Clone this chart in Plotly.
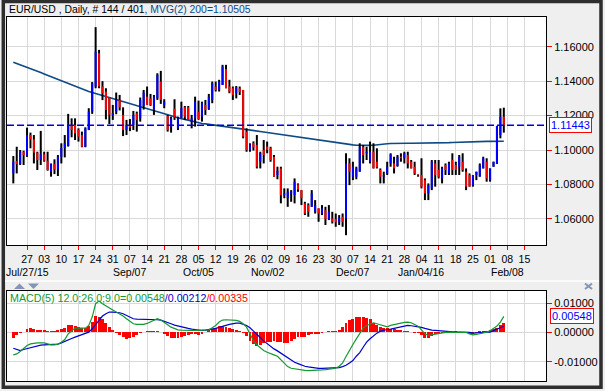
import plotly.graph_objects as go
import pandas as pd

# ---------------- data ----------------
opens = [1.0864, 1.0936, 1.0918, 1.0990, 1.0965, 1.1087, 1.1062, 1.0985, 1.0942, 1.0975,
         1.0938, 1.0874, 1.0918, 1.0887, 1.0961, 1.1012, 1.1023, 1.1146, 1.1146, 1.1116,
         1.1087, 1.1019, 1.1116, 1.1223, 1.1369, 1.1563, 1.1369, 1.1340, 1.1307, 1.1200,
         1.1223, 1.1291, 1.1204, 1.1116, 1.1146, 1.1146, 1.1213, 1.1184, 1.1256, 1.1310,
         1.1300, 1.1233, 1.1301, 1.1398, 1.1262, 1.1198, 1.1136, 1.1240, 1.1126, 1.1184,
         1.1248, 1.1248, 1.1165, 1.1184, 1.1223, 1.1194, 1.1262, 1.1240, 1.1290, 1.1369,
         1.1349, 1.1378, 1.1470, 1.1369, 1.1359, 1.1330, 1.1359, 1.1349, 1.1107, 1.1000,
         1.1040, 1.1029, 1.0932, 1.1000, 1.1020, 1.1010, 1.0961, 1.0855, 1.0893, 1.0738,
         1.0720, 1.0748, 1.0738, 1.0800, 1.0767, 1.0690, 1.0680, 1.0670, 1.0641, 1.0661,
         1.0631, 1.0650, 1.0600, 1.0602, 1.0600, 1.0580, 1.0612, 1.0602, 1.0922, 1.0845,
         1.0845, 1.0874, 1.1019, 1.0981, 1.0932, 1.0990, 1.0932, 1.0884, 1.0845, 1.0864,
         1.0922, 1.0922, 1.0907, 1.0961, 1.0952, 1.0971, 1.0932, 1.0903, 1.0858, 1.0855,
         1.0825, 1.0748, 1.0777, 1.0922, 1.0884, 1.0835, 1.0913, 1.0864, 1.0942, 1.0913,
         1.0903, 1.0932, 1.0874, 1.0855, 1.0796, 1.0855, 1.0845, 1.0893, 1.0932, 1.0825,
         1.0903, 1.0919, 1.1087, 1.1194]
highs = [1.0965, 1.1019, 1.1000, 1.0996, 1.1130, 1.1101, 1.1087, 1.0990, 1.1111, 1.0990,
         1.0990, 1.0922, 1.0946, 1.0971, 1.1039, 1.1087, 1.1210, 1.1184, 1.1184, 1.1126,
         1.1107, 1.1132, 1.1243, 1.1395, 1.1714, 1.1582, 1.1400, 1.1359, 1.1307, 1.1262,
         1.1334, 1.1320, 1.1248, 1.1175, 1.1180, 1.1227, 1.1223, 1.1305, 1.1349, 1.1369,
         1.1326, 1.1320, 1.1446, 1.1460, 1.1295, 1.1204, 1.1194, 1.1295, 1.1194, 1.1281,
         1.1256, 1.1256, 1.1204, 1.1310, 1.1287, 1.1281, 1.1291, 1.1326, 1.1398, 1.1398,
         1.1408, 1.1495, 1.1495, 1.1408, 1.1369, 1.1372, 1.1369, 1.1349, 1.1126, 1.1039,
         1.1050, 1.1087, 1.0990, 1.1058, 1.1049, 1.1019, 1.0971, 1.0903, 1.0903, 1.0777,
         1.0777, 1.0767, 1.0835, 1.0806, 1.0767, 1.0699, 1.0690, 1.0767, 1.0709, 1.0661,
         1.0680, 1.0670, 1.0680, 1.0641, 1.0631, 1.0622, 1.0631, 1.0981, 1.0952, 1.0932,
         1.0903, 1.1039, 1.1029, 1.1019, 1.1049, 1.1039, 1.1010, 1.0893, 1.0874, 1.0932,
         1.0981, 1.0961, 1.0971, 1.0981, 1.0990, 1.0990, 1.0942, 1.0932, 1.0858, 1.0952,
         1.0835, 1.0806, 1.0942, 1.0942, 1.0942, 1.0903, 1.0922, 1.0932, 1.0981, 1.0932,
         1.0971, 1.0981, 1.0893, 1.0864, 1.0855, 1.0874, 1.0922, 1.0961, 1.0952, 1.0893,
         1.0932, 1.1140, 1.1242, 1.1246]
lows = [1.0806, 1.0864, 1.0913, 1.0913, 1.0960, 1.1010, 1.0922, 1.0884, 1.0913, 1.0932,
        1.0880, 1.0845, 1.0860, 1.0849, 1.0922, 1.0957, 1.1020, 1.1074, 1.1058, 1.1049,
        1.1016, 1.1016, 1.1116, 1.1210, 1.1359, 1.1359, 1.1290, 1.1178, 1.1151, 1.1175,
        1.1208, 1.1230, 1.1081, 1.1087, 1.1110, 1.1116, 1.1107, 1.1165, 1.1235, 1.1262,
        1.1256, 1.1204, 1.1291, 1.1268, 1.1243, 1.1107, 1.1101, 1.1175, 1.1116, 1.1184,
        1.1175, 1.1175, 1.1126, 1.1136, 1.1175, 1.1165, 1.1204, 1.1233, 1.1272, 1.1340,
        1.1340, 1.1378, 1.1359, 1.1330, 1.1291, 1.1300, 1.1320, 1.1068, 1.0990, 1.0990,
        1.0997, 1.0893, 1.0893, 1.0922, 1.0981, 1.0932, 1.0845, 1.0830, 1.0690, 1.0720,
        1.0670, 1.0699, 1.0690, 1.0757, 1.0680, 1.0622, 1.0612, 1.0670, 1.0631, 1.0583,
        1.0622, 1.0564, 1.0593, 1.0573, 1.0554, 1.0564, 1.0554, 1.0505, 1.0796, 1.0825,
        1.0830, 1.0874, 1.0922, 1.0942, 1.0922, 1.0893, 1.0893, 1.0806, 1.0806, 1.0855,
        1.0903, 1.0864, 1.0903, 1.0932, 1.0922, 1.0893, 1.0893, 1.0855, 1.0845, 1.0777,
        1.0709, 1.0709, 1.0767, 1.0787, 1.0835, 1.0806, 1.0855, 1.0855, 1.0855, 1.0855,
        1.0855, 1.0874, 1.0767, 1.0787, 1.0787, 1.0825, 1.0845, 1.0893, 1.0816, 1.0816,
        1.0903, 1.0919, 1.1068, 1.1101]
closes = [1.0932, 1.0918, 1.0990, 1.0971, 1.1087, 1.1062, 1.0985, 1.0942, 1.0975, 1.0938,
          1.0884, 1.0918, 1.0887, 1.0961, 1.1012, 1.1040, 1.1146, 1.1116, 1.1097, 1.1078,
          1.1019, 1.1126, 1.1223, 1.1388, 1.1572, 1.1369, 1.1330, 1.1233, 1.1204, 1.1215,
          1.1291, 1.1248, 1.1116, 1.1146, 1.1130, 1.1204, 1.1175, 1.1291, 1.1334, 1.1262,
          1.1262, 1.1310, 1.1437, 1.1291, 1.1281, 1.1116, 1.1184, 1.1190, 1.1184, 1.1243,
          1.1194, 1.1175, 1.1184, 1.1280, 1.1180, 1.1275, 1.1233, 1.1310, 1.1388, 1.1349,
          1.1398, 1.1485, 1.1359, 1.1340, 1.1320, 1.1365, 1.1337, 1.1078, 1.1000, 1.1033,
          1.1015, 1.0903, 1.0981, 1.0971, 1.1000, 1.0942, 1.0845, 1.0880, 1.0738, 1.0748,
          1.0758, 1.0758, 1.0815, 1.0770, 1.0720, 1.0631, 1.0641, 1.0748, 1.0680, 1.0631,
          1.0661, 1.0600, 1.0641, 1.0583, 1.0580, 1.0605, 1.0583, 1.0922, 1.0874, 1.0903,
          1.0893, 1.1019, 1.0971, 1.0990, 1.0990, 1.0893, 1.0900, 1.0845, 1.0855, 1.0903,
          1.0975, 1.0893, 1.0961, 1.0952, 1.0981, 1.0922, 1.0893, 1.0864, 1.0852, 1.0787,
          1.0748, 1.0796, 1.0932, 1.0855, 1.0845, 1.0893, 1.0884, 1.0922, 1.0884, 1.0884,
          1.0961, 1.0884, 1.0787, 1.0787, 1.0855, 1.0874, 1.0913, 1.0952, 1.0835, 1.0893,
          1.0932, 1.1140, 1.1194, 1.11443]
ma200 = [1.1510, 1.1503, 1.1496, 1.1489, 1.1482, 1.1474, 1.1466, 1.1458, 1.1450, 1.1442,
         1.1434, 1.1426, 1.1418, 1.1410, 1.1401, 1.1392, 1.1384, 1.1376, 1.1368, 1.1360,
         1.1352, 1.1346, 1.1340, 1.1334, 1.1328, 1.1322, 1.1316, 1.1310, 1.1304, 1.1298,
         1.1292, 1.1286, 1.1280, 1.1274, 1.1268, 1.1262, 1.1256, 1.1250, 1.1244, 1.1238,
         1.1232, 1.1226, 1.1220, 1.1214, 1.1208, 1.1203, 1.1198, 1.1193, 1.1188, 1.1182,
         1.1178, 1.1173, 1.1168, 1.1163, 1.1157, 1.1154, 1.1152, 1.1149, 1.1146, 1.1143,
         1.1140, 1.1138, 1.1136, 1.1133, 1.1131, 1.1128, 1.1125, 1.1122, 1.1119, 1.1116,
         1.1114, 1.1111, 1.1108, 1.1105, 1.1102, 1.1099, 1.1096, 1.1093, 1.1090, 1.1087,
         1.1084, 1.1081, 1.1079, 1.1076, 1.1073, 1.1071, 1.1068, 1.1066, 1.1063, 1.1060,
         1.1057, 1.1053, 1.1049, 1.1045, 1.1041, 1.1038, 1.1036, 1.1034, 1.1032, 1.1030,
         1.1028, 1.1027, 1.1027, 1.1027, 1.1027, 1.1028, 1.1029, 1.1031, 1.1033, 1.1036,
         1.1038, 1.1039, 1.1039, 1.1039, 1.1039, 1.1039, 1.1039, 1.1039, 1.1039, 1.1039,
         1.1039, 1.1039, 1.1040, 1.1040, 1.1040, 1.1041, 1.1042, 1.1043, 1.1044, 1.1045,
         1.1045, 1.1045, 1.1045, 1.1045, 1.1046, 1.1047, 1.1049, 1.1050, 1.1050, 1.1050,
         1.1050, 1.1051, 1.1052, 1.10505]
macd_line = [-0.00762, -0.00728, -0.00649, -0.00558, -0.00444, -0.00387, -0.00364, -0.00353, -0.00353, -0.00353,
             -0.00387, -0.00421, -0.00421, -0.00398, -0.00330, -0.00239, -0.00046, 0.00046, 0.00148, 0.00148,
             0.00148, 0.00148, 0.00239, 0.00523, 0.00979, 0.01070, 0.00979, 0.00899, 0.00831, 0.00762,
             0.00694, 0.00637, 0.00558, 0.00467, 0.00376, 0.00296, 0.00273, 0.00262, 0.00273, 0.00307,
             0.00353, 0.00410, 0.00467, 0.00421, 0.00353, 0.00262, 0.00182, 0.00125, 0.00091, 0.00080,
             0.00068, 0.00068, 0.00068, 0.00068, 0.00080, 0.00080, 0.00091, 0.00091, 0.00159, 0.00239,
             0.00353, 0.00421, 0.00432, 0.00432, 0.00421, 0.00410, 0.00376, 0.00296, 0.00182, -0.00046,
             -0.00273, -0.00421, -0.00535, -0.00614, -0.00671, -0.00706, -0.00762, -0.00808, -0.00922, -0.01036,
             -0.01161, -0.01218, -0.01240, -0.01240, -0.01275, -0.01286, -0.01297, -0.01297, -0.01286, -0.01286,
             -0.01275, -0.01263, -0.01252, -0.01240, -0.01218, -0.01149, -0.01036, -0.00819, -0.00592, -0.00410,
             -0.00216, -0.00011, 0.00148, 0.00239, 0.00296, 0.00330, 0.00296, 0.00262, 0.00216, 0.00193,
             0.00239, 0.00273, 0.00296, 0.00319, 0.00341, 0.00353, 0.00330, 0.00285, 0.00216, 0.00091,
             -0.00046, -0.00102, -0.00080, -0.00046, -0.00023, -0.00011, 0.00000, 0.00011, 0.00011, 0.00011,
             0.00011, 0.00011, 0.00000, -0.00046, -0.00080, -0.00068, -0.00046, -0.00011, 0.00011, 0.00057,
             0.00125, 0.00216, 0.00353, 0.00548]
signal_line = [-0.00535, -0.00580, -0.00614, -0.00580, -0.00546, -0.00512, -0.00478, -0.00455, -0.00432, -0.00421,
               -0.00421, -0.00410, -0.00410, -0.00398, -0.00353, -0.00296, -0.00250, -0.00205, -0.00159, -0.00114,
               -0.00080, -0.00034, 0.00011, 0.00125, 0.00262, 0.00432, 0.00558, 0.00637, 0.00694, 0.00694,
               0.00694, 0.00671, 0.00637, 0.00580, 0.00523, 0.00467, 0.00455, 0.00455, 0.00444, 0.00444,
               0.00444, 0.00432, 0.00432, 0.00421, 0.00387, 0.00341, 0.00296, 0.00250, 0.00216, 0.00193,
               0.00171, 0.00137, 0.00114, 0.00091, 0.00068, 0.00068, 0.00080, 0.00091, 0.00102, 0.00137,
               0.00171, 0.00216, 0.00239, 0.00273, 0.00307, 0.00319, 0.00319, 0.00285, 0.00239, 0.00159,
               0.00057, -0.00057, -0.00171, -0.00285, -0.00387, -0.00489, -0.00558, -0.00626, -0.00706, -0.00785,
               -0.00865, -0.00956, -0.01013, -0.01058, -0.01115, -0.01149, -0.01172, -0.01195, -0.01206, -0.01218,
               -0.01218, -0.01218, -0.01218, -0.01218, -0.01206, -0.01195, -0.01161, -0.01115, -0.01036, -0.00956,
               -0.00808, -0.00683, -0.00501, -0.00330, -0.00216, -0.00102, -0.00023, 0.00046, 0.00080, 0.00102,
               0.00114, 0.00137, 0.00148, 0.00171, 0.00205, 0.00239, 0.00228, 0.00216, 0.00205, 0.00171,
               0.00137, 0.00102, 0.00080, 0.00068, 0.00057, 0.00034, 0.00034, 0.00023, 0.00011, 0.00011,
               0.00011, 0.00011, 0.00011, 0.00000, -0.00023, -0.00011, 0.00011, 0.00011, 0.00011, 0.00011,
               0.00057, 0.00102, 0.00148, 0.00212]
macd_hist = [-0.00193, -0.00102, -0.00034, 0.00023, 0.00125, 0.00159, 0.00125, 0.00091, 0.00091, 0.00068,
             0.00057, 0.00046, 0.00057, 0.00068, 0.00102, 0.00148, 0.00239, 0.00262, 0.00228, 0.00171,
             0.00148, 0.00159, 0.00216, 0.00353, 0.00558, 0.00523, 0.00467, 0.00330, 0.00171, 0.00080,
             -0.00034, -0.00080, -0.00148, -0.00216, -0.00193, -0.00159, -0.00102, -0.00034, 0.00011, 0.00046,
             0.00057, 0.00046, 0.00034, 0.00011, -0.00057, -0.00114, -0.00171, -0.00193, -0.00182, -0.00159,
             -0.00125, -0.00091, -0.00068, -0.00068, -0.00080, -0.00046, 0.00011, 0.00068, 0.00114, 0.00159,
             0.00216, 0.00216, 0.00193, 0.00159, 0.00125, 0.00091, 0.00046, -0.00034, -0.00125, -0.00273,
             -0.00387, -0.00444, -0.00410, -0.00364, -0.00330, -0.00307, -0.00273, -0.00307, -0.00330, -0.00353,
             -0.00353, -0.00273, -0.00216, -0.00159, -0.00159, -0.00137, -0.00102, -0.00057, -0.00046, -0.00046,
             -0.00023, 0.00023, 0.00034, 0.00034, 0.00057, 0.00091, 0.00171, 0.00330, 0.00421, 0.00467,
             0.00512, 0.00535, 0.00523, 0.00501, 0.00467, 0.00330, 0.00239, 0.00182, 0.00159, 0.00148,
             0.00125, 0.00114, 0.00091, 0.00068, 0.00046, 0.00034, 0.00000, -0.00011, -0.00034, -0.00102,
             -0.00171, -0.00182, -0.00114, -0.00068, -0.00046, -0.00034, -0.00023, 0.00000, 0.00023, 0.00034,
             0.00023, 0.00000, -0.00023, -0.00046, -0.00068, -0.00023, 0.00034, 0.00046, 0.00046, 0.00068,
             0.00102, 0.00148, 0.00262, 0.00335]

price_ticks = [1.06, 1.08, 1.10, 1.12, 1.14, 1.16]
price_tick_text = ["1.06000", "1.08000", "1.10000", "1.12000", "1.14000", "1.16000"]
macd_ticks = [-0.01, 0.0, 0.01]
macd_tick_text = ["-0.01000", "0.00000", "0.01000"]
month_dates = ["2015-07-27", "2015-09-07", "2015-10-05", "2015-11-02",
               "2015-12-07", "2016-01-04", "2016-02-08"]
month_labels = ["Jul/27/15", "Sep/07", "Oct/05", "Nov/02", "Dec/07", "Jan/04/16", "Feb/08"]
last_price_text = "1.11443"
last_macd_text = "0.00548"

# ---------------- helpers ----------------
n = len(closes)
dates = pd.bdate_range("2015-07-21", periods=n + 8)
date_index = {d.strftime("%Y-%m-%d"): i for i, d in enumerate(dates)}
tick_pos = [i for i, d in enumerate(dates) if d.weekday() == 0]
tick_text = [dates[i].strftime("%d") for i in tick_pos]

FONT = "Liberation Sans, Arial, sans-serif"
W_L, W_R, H_T, H_B = 7, 546, 17, 381


def px(x):
    return (x - W_L) / (W_R - W_L)


def py(y):
    return (H_B - y) / (H_B - H_T)


wx, wy = [], []
ux, uy = [], []
dx, dy = [], []
for i in range(n):
    wx += [i, i, None]
    wy += [lows[i], highs[i], None]
    if closes[i] >= opens[i]:
        ux += [i, i, None]
        uy += [opens[i], closes[i], None]
    else:
        dx += [i, i, None]
        dy += [opens[i], closes[i], None]

fig = go.Figure()
fig.add_trace(go.Scatter(x=list(range(n)), y=ma200, mode="lines",
                         line=dict(color="#0d4a86", width=1.6), xaxis="x", yaxis="y",
                         hoverinfo="skip"))
fig.add_trace(go.Scatter(x=wx, y=wy, mode="lines", line=dict(color="black", width=2),
                         xaxis="x", yaxis="y", hoverinfo="skip"))
fig.add_trace(go.Scatter(x=ux, y=uy, mode="lines", line=dict(color="#0000ff", width=2),
                         xaxis="x", yaxis="y", hoverinfo="skip"))
fig.add_trace(go.Scatter(x=dx, y=dy, mode="lines", line=dict(color="#ff0000", width=2),
                         xaxis="x", yaxis="y", hoverinfo="skip"))

fig.add_trace(go.Bar(x=list(range(n)), y=macd_hist, marker=dict(color="#ff0000", line=dict(width=0)),
                     width=0.85, xaxis="x2", yaxis="y2", hoverinfo="skip"))
fig.add_trace(go.Scatter(x=list(range(n)), y=signal_line, mode="lines",
                         line=dict(color="#0000cc", width=1.2), xaxis="x2", yaxis="y2",
                         hoverinfo="skip"))
fig.add_trace(go.Scatter(x=list(range(n)), y=macd_line, mode="lines",
                         line=dict(color="#119933", width=1.2), xaxis="x2", yaxis="y2",
                         hoverinfo="skip"))

xr = [-1.84, 155.3]
grid = "#d9d9d9"
common_x = dict(range=xr, tickvals=tick_pos, showgrid=True, gridcolor=grid, gridwidth=1,
                zeroline=False, showline=True, linecolor="black", linewidth=1, mirror=True,
                fixedrange=True)

fig.update_layout(
    width=605, height=391,
    margin=dict(l=W_L, r=605 - W_R, t=H_T, b=391 - H_B),
    paper_bgcolor="#efefef", plot_bgcolor="white",
    showlegend=False, bargap=0,
    font=dict(family=FONT, size=11, color="black"),
    xaxis=dict(**common_x, domain=[0, 1], anchor="y", ticktext=tick_text,
               ticks="outside", ticklen=4, tickcolor="red", tickwidth=1,
               tickfont=dict(size=10.5, color="black")),
    yaxis=dict(domain=[py(245), 1], range=[1.0448, 1.1773], side="right", anchor="x",
               tickvals=price_ticks, ticktext=price_tick_text, ticks="outside",
               ticklen=5, tickcolor="red", tickwidth=1, showgrid=True, gridcolor=grid,
               zeroline=False, showline=True, linecolor="black", linewidth=1, mirror=True,
               tickfont=dict(size=11, color="black"), fixedrange=True),
    xaxis2=dict(**common_x, domain=[0, 1], anchor="y2", ticks="", showticklabels=False),
    yaxis2=dict(domain=[0, py(291)], range=[-0.0165, 0.0141], side="right", anchor="x2",
                tickvals=macd_ticks, ticktext=macd_tick_text, ticks="outside",
                ticklen=5, tickcolor="red", tickwidth=1, showgrid=True, gridcolor=grid,
                zeroline=False, showline=True, linecolor="black", linewidth=1, mirror=True,
                tickfont=dict(size=11, color="black"), fixedrange=True),
)

shapes = []
# current price dashed line
shapes.append(dict(type="line", xref="paper", x0=0, x1=1, yref="y", y0=closes[-1], y1=closes[-1],
                   line=dict(color="#0000dd", width=1.5, dash="7px,3px")))
# outer dark frame
shapes.append(dict(type="rect", xref="paper", yref="paper", x0=px(3.3), x1=px(601),
                   y0=py(387.2), y1=py(1.5), line=dict(color="#2e2e2e", width=3.5),
                   fillcolor="rgba(0,0,0,0)", layer="above"))
# separator line between panels
shapes.append(dict(type="line", xref="paper", yref="paper", x0=px(5), x1=px(599),
                   y0=py(281), y1=py(281), line=dict(color="white", width=1.5)))
# small navigation icons
icon = "#8494b4"
shapes.append(dict(type="path", xref="paper", yref="paper",
                   path=f"M {px(14)},{py(289)} L {px(25)},{py(289)} L {px(19.5)},{py(283.5)} Z",
                   fillcolor=icon, line=dict(width=0)))
shapes.append(dict(type="path", xref="paper", yref="paper",
                   path=f"M {px(28)},{py(283.5)} L {px(39)},{py(283.5)} L {px(33.5)},{py(289)} Z",
                   fillcolor=icon, line=dict(width=0)))
shapes.append(dict(type="line", xref="paper", yref="paper", x0=px(585), x1=px(592),
                   y0=py(283.5), y1=py(289), line=dict(color=icon, width=2)))
shapes.append(dict(type="line", xref="paper", yref="paper", x0=px(585), x1=px(592),
                   y0=py(289), y1=py(283.5), line=dict(color=icon, width=2)))
fig.update_layout(shapes=shapes)

ann = []
ann.append(dict(xref="paper", yref="paper", x=px(7), y=py(9.5), xanchor="left", yanchor="middle",
                showarrow=False, font=dict(size=10.4, family=FONT),
                text='<span style="color:black">EUR/USD , Daily, # 144 / 401</span>'
                     '<span style="color:#0a4a8c">, MVG(2) 200=1.10505</span>'))
ann.append(dict(xref="paper", yref="paper", x=px(8), y=py(297.5), xanchor="left", yanchor="middle",
                showarrow=False, font=dict(size=10.7, family=FONT),
                text='<span style="color:#119933">MACD(5) 12.0;26.0;9.0=0.00548</span>'
                     '<span style="color:#0000cc">/0.00212</span>'
                     '<span style="color:#ff0000">/0.00335</span>'))
for d, lab in zip(month_dates, month_labels):
    ann.append(dict(xref="x", yref="paper", x=date_index[d], y=py(271.5), xanchor="center",
                    yanchor="middle", showarrow=False, text=lab,
                    font=dict(size=10.5, color="black", family=FONT)))
ann.append(dict(xref="paper", yref="y", x=px(548.5), y=closes[-1], xanchor="left",
                yanchor="middle", showarrow=False, text=last_price_text,
                font=dict(size=11, color="#0000ff", family=FONT), bgcolor="white",
                bordercolor="red", borderwidth=1, borderpad=1))
ann.append(dict(xref="paper", yref="y2", x=px(550), y=macd_line[-1], xanchor="left",
                yanchor="middle", showarrow=False, text=last_macd_text,
                font=dict(size=11, color="#0000ff", family=FONT), bgcolor="white",
                bordercolor="red", borderwidth=1, borderpad=1))
fig.update_layout(annotations=ann)

fig.write_html(
    "out.html",
    config={"displayModeBar": False, "staticPlot": True},
    post_script="document.body.style.margin='0px';document.body.style.overflow='hidden';",
)
